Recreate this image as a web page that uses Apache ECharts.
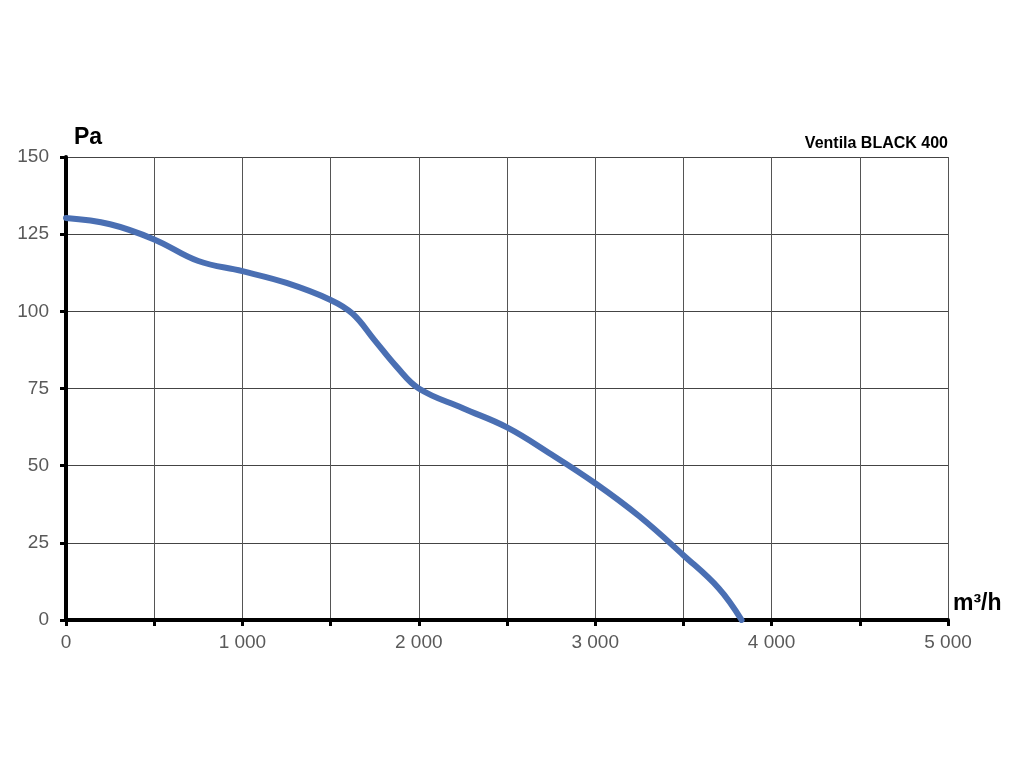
<!DOCTYPE html>
<html>
<head>
<meta charset="utf-8">
<script src="https://cdn.jsdelivr.net/npm/echarts@6/dist/echarts.min.js"></script>
<style>
  html, body { margin: 0; padding: 0; background: #fff; }
  #chart { width: 1024px; height: 768px; }
</style>
</head>
<body>
<div id="chart"></div>
<script>
    // airflow (m³/h) and static pressure (Pa)
    const flowValues = [0, 250, 500, 750, 1000, 1250, 1500, 1625, 1750, 1875, 2000, 2250, 2500, 2750, 3000, 3250, 3500, 3700, 3830];
    const pressureValues = [130.2, 128.2, 123.3, 116.3, 113, 109.2, 103.7, 99.2, 90.6, 82, 75, 68.6, 62.4, 53.7, 44.3, 33.6, 21, 10.3, 0];
    const xTickLabels = ['0', '1 000', '2 000', '3 000', '4 000', '5 000'];
    const yTickLabels = ['0', '25', '50', '75', '100', '125', '150'];

    const chart = echarts.init(document.getElementById('chart'));
    const fontFamily = '"Liberation Sans", Arial, sans-serif';

    const option = {
        backgroundColor: '#fff',
        animation: false,
        title: [
            {
                text: 'Pa',
                left: 69,
                top: 121,
                textStyle: { fontFamily, fontSize: 23, fontWeight: 'bold', color: '#000' }
            },
            {
                text: 'm³/h',
                left: 948,
                top: 587,
                textStyle: { fontFamily, fontSize: 23, fontWeight: 'bold', color: '#000' }
            },
            {
                text: 'Ventila BLACK 400',
                right: 71,
                top: 131,
                textStyle: { fontFamily, fontSize: 16, fontWeight: 'bold', color: '#000' }
            }
        ],
        grid: {
            left: 66,
            right: 76,
            top: 157,
            bottom: 148
        },
        xAxis: {
            type: 'value',
            min: 0,
            max: 5000,
            interval: 500,
            axisLine: { lineStyle: { color: '#000', width: 4 } },
            axisTick: { show: true, length: 6, lineStyle: { color: '#000', width: 3 } },
            axisLabel: {
                fontFamily,
                fontSize: 19,
                color: '#595959',
                margin: 13,
                formatter: (value) => {
                    if (value % 1000 !== 0) return '';
                    return xTickLabels[value / 1000];
                }
            },
            splitLine: { show: true, lineStyle: { color: '#555', width: 1 } }
        },
        yAxis: {
            type: 'value',
            min: 0,
            max: 150,
            interval: 25,
            axisLine: { show: true, lineStyle: { color: '#000', width: 4 } },
            axisTick: { show: true, length: 6, lineStyle: { color: '#000', width: 3 } },
            axisLabel: {
                fontFamily,
                fontSize: 19,
                color: '#595959',
                margin: 17,
                formatter: (value) => yTickLabels[value / 25]
            },
            splitLine: { show: true, lineStyle: { color: '#444', width: 1 } }
        },
        series: [
            {
                type: 'line',
                data: flowValues.map((x, i) => [x, pressureValues[i]]),
                smooth: 0.4,
                symbol: 'none',
                lineStyle: { color: '#4a6fb3', width: 6, cap: 'round' },
                z: 5
            }
        ]
    };
    chart.setOption(option);
</script>
</body>
</html>
